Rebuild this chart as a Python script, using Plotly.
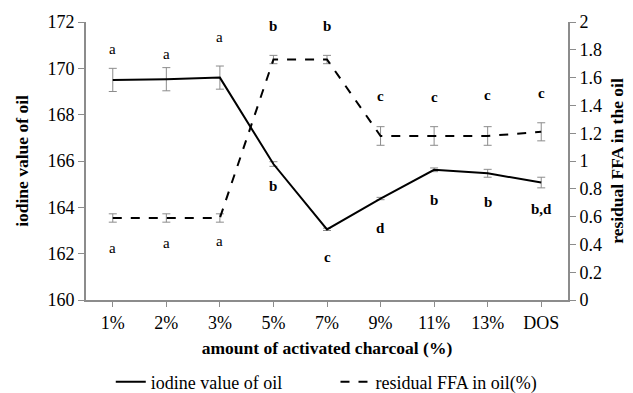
import plotly.graph_objects as go

categories = ["1%", "2%", "3%", "5%", "7%", "9%", "11%", "13%", "DOS"]
iodine = [169.5, 169.53, 169.6, 165.87, 163.05, 164.38, 165.62, 165.47, 165.07]
iodine_err = [0.5, 0.5, 0.5, 0.1, 0.05, 0.05, 0.08, 0.17, 0.23]
ffa = [0.59, 0.59, 0.59, 1.73, 1.73, 1.18, 1.18, 1.18, 1.21]
ffa_err = [0.03, 0.03, 0.03, 0.03, 0.03, 0.067, 0.067, 0.067, 0.065]

top_letters = ["a", "a", "a", "b", "b", "c", "c", "c", "c"]
top_letter_y = [170.83, 170.62, 171.35, 171.83, 171.83, 168.8, 168.76, 168.85, 168.94]
bottom_letters = ["a", "a", "a", "b", "c", "d", "b", "b", "b,d"]
bottom_letter_y = [162.25, 162.46, 162.55, 164.92, 161.86, 163.11, 164.32, 164.23, 163.93]

FONT = "Liberation Serif"
AXC = "#8c8c8c"

fig = go.Figure()
fig.add_trace(go.Scatter(
    x=categories, y=iodine, mode="lines", name="iodine value of oil", legend="legend",
    line=dict(color="black", width=2),
    error_y=dict(type="data", array=iodine_err, color="#8c8c8c", thickness=1, width=4),
))
fig.add_trace(go.Scatter(
    x=categories, y=ffa, mode="lines", name="residual FFA in oil(%)", yaxis="y2", legend="legend2",
    line=dict(color="black", width=2, dash="dash"),
    error_y=dict(type="data", array=ffa_err, color="#8c8c8c", thickness=1, width=4),
))

annotations = []
for c, t, y in zip(categories, top_letters, top_letter_y):
    txt = t if t == "a" else "<b>" + t + "</b>"
    annotations.append(dict(x=c, y=y, xref="x", yref="y", text=txt, showarrow=False,
                            font=dict(family=FONT, size=15, color="black")))
for c, t, y in zip(categories, bottom_letters, bottom_letter_y):
    txt = t if t == "a" else "<b>" + t + "</b>"
    annotations.append(dict(x=c, y=y, xref="x", yref="y", text=txt, showarrow=False,
                            font=dict(family=FONT, size=15, color="black")))

legend_common = dict(orientation="h", xref="container", yref="container", yanchor="middle",
                     xanchor="left", font=dict(family=FONT, size=18), bgcolor="rgba(0,0,0,0)")

fig.update_layout(
    width=633, height=393,
    margin=dict(l=86, r=65, t=22, b=93, autoexpand=False),
    paper_bgcolor="white", plot_bgcolor="white",
    font=dict(family=FONT, size=18, color="black"),
    showlegend=True,
    legend=dict(legend_common, x=0.175, y=0.028),
    legend2=dict(legend_common, x=0.53, y=0.028),
    xaxis=dict(type="category", range=[-0.5, 8.5], showline=True, linecolor=AXC, linewidth=2,
               ticks="outside", tickcolor=AXC, ticklen=5, showgrid=False, zeroline=False,
               title=dict(text="<b>amount of activated charcoal (%)</b>", font=dict(size=17.5), standoff=10),
               tickfont=dict(size=18)),
    yaxis=dict(range=[160, 172], dtick=2, showline=True, linecolor=AXC, linewidth=2,
               ticks="outside", tickcolor=AXC, ticklen=6, showgrid=False, zeroline=False,
               title=dict(text="<b>iodine value of oil</b>", font=dict(size=17.5), standoff=14),
               tickfont=dict(size=18)),
    yaxis2=dict(range=[0, 2], dtick=0.2, overlaying="y", side="right", showline=True,
                linecolor=AXC, linewidth=2, ticks="outside", tickcolor=AXC, ticklen=6,
                showgrid=False, zeroline=False,
                title=dict(text="<b>residual FFA in the oil</b>", font=dict(size=17.5), standoff=10),
                tickfont=dict(size=18)),
    annotations=annotations,
)

fig.write_html("out.html")
